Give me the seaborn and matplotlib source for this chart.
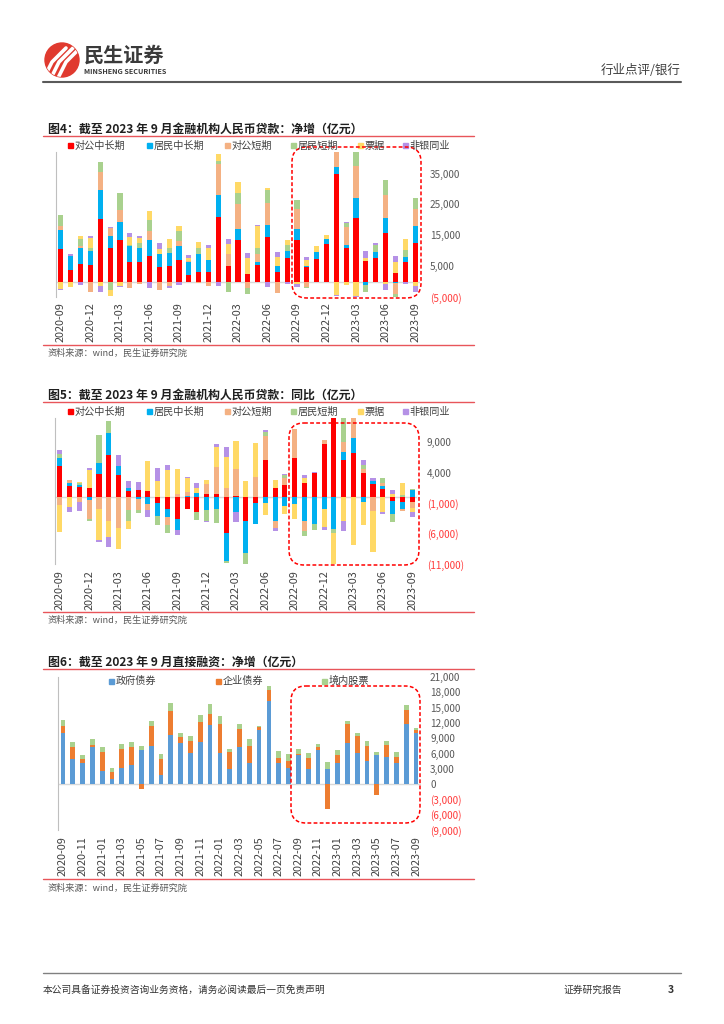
import numpy as np
import pandas as pd
import matplotlib
matplotlib.use('Agg')
import matplotlib.pyplot as plt
from matplotlib.patches import Rectangle, FancyBboxPatch, Circle
import seaborn as sns

sns.set_style('white')
plt.rcParams['font.family'] = ['Noto Sans CJK SC', 'DejaVu Sans']
plt.rcParams['axes.unicode_minus'] = False

months = list(pd.period_range('2020-09', '2023-09', freq='M').strftime('%Y-%m'))

# 图4 净增 (亿元)
corpLong4 = [10650, 3900, 5750, 5400, 20300, 10870, 13370, 6400, 6400, 8370, 4800, 5100, 6850, 2200, 3150, 3260, 20900, 4900, 13370,
             2600, 5430, 14350, 3260, 7600, 13370, 4570, 7390, 12070, 34890, 10980, 20650, 6520, 7610, 15870, 2720, 6200, 12390]
hhLong4 = [6200, 4250, 5100, 4350, 9350, 4000, 6100, 5100, 4450, 5100, 4000, 4250, 4550, 4100, 5850, 3600, 7300, -100, 3700,
           0, 1000, 4130, 1640, 2400, 3600, 430, 2070, 1850, 2170, 870, 6300, -1200, 1850, 4670, -540, 1630, 5540]
corpShort4 = [1150, 0, 550, -3250, 5750, 2600, 3700, -2200, -650, 3050, -2600, -1500, 1750, 500, -400, -1300, 10000, 4100, 8150,
              -2200, 2600, 6850, -3700, 0, 6400, -1630, 0, 0, 4900, 5760, 10650, 0, 0, 7400, -3580, 0, 5650]
hhShort4 = [3700, 0, 2500, 1100, 3250, -2600, 5450, 300, 1750, 3500, 0, 1500, 3250, 0, 2000, 0, 1000, -3400, 3600,
            -1900, 1850, 4240, 0, 1960, 3040, -540, -200, -300, 0, 1300, 4350, -2300, 2280, 4900, -760, 2500, 3370]
bills4 = [-2400, -1850, 870, 3250, -1500, -2000, -1300, 2700, 1500, 2900, 1750, 2950, 1500, 900, 1700, 4150, 2100, 3100, 3300,
          5150, 7150, 870, 3040, 1630, -870, 1850, 1950, 1100, -4240, -980, -4560, 1200, 0, -870, 3580, 3580, -1520]
nonbank4 = [-400, 700, -1100, 750, -2000, 300, -400, 1400, 650, -2000, 1850, -450, -1000, 1000, 0, 750, -1300, 1700, -300,
            1350, 450, -1600, 1520, -650, -870, 1100, 0, 0, -430, 300, -430, 2280, 760, -1960, 2070, -650, -1740]

# 图5 同比 (亿元)
corpLong5 = [5060, 1830, 1670, 1500, 3840, 6840, 3670, 1000, 1170, 1000, -950, -2000, -3670, -1890, -2450, 560, 500, -5950, 170,
             -4000, -950, 6120, 1500, 2060, 6500, 2340, 3890, 8670, 14000, 6060, 7170, 4000, 2110, 1330, -670, -890, -890]
hhLong5 = [1390, 500, 330, -440, 1830, 3720, 1500, 500, -280, -1170, -2220, -1340, -1730, 220, 670, -2170, -1950, -4610, -2450,
           -5120, -3440, -1000, -4000, -1450, -1170, -3950, -4450, -2000, -5230, 1280, 2620, -830, 610, 560, -2170, -1110, 1220]
corpShort5 = [-1220, 400, -890, -3230, -2000, -4000, -5000, -2170, -1890, -1000, 0, -1220, 560, 610, 0, 1550, 4390, 1500, 4390,
              0, 3340, 3950, -1060, 1060, 4730, -1560, 0, 670, 0, 1670, 4000, 670, -2340, 450, 0, -280, -890]
hhShort5 = [670, 0, 330, -330, 4500, 1890, 0, -1830, -500, 0, -1500, -1280, 0, 0, -1270, -1720, -2330, -220, 0,
            -2000, 0, 610, 0, 500, 0, -830, -890, 0, -670, 4500, 1500, 670, 0, 780, -1280, 330, 110]
bills5 = [-4450, -1670, 220, 3000, -5000, -2500, -3560, -1230, 0, 4950, 2720, 4500, 4060, 2340, 830, 730, 3280, 5060, 4610,
          2670, 5560, -1890, 1280, -1330, -2390, 780, 0, -2890, -5800, -4000, -7840, -3780, -6670, -2450, 500, 1950, -610]
nonbank5 = [560, -780, -1330, 280, -450, -1670, 1780, 1220, 1330, -1110, 2120, 780, -830, 170, 780, -220, 560, 1610, -1660,
            0, 0, 330, -440, 220, 0, 560, 220, -500, 0, -1620, 0, 830, 390, -330, 700, 0, -950]

# 图6 直接融资 净增 (亿元)
govBond = [10100, 4960, 4040, 7240, 2480, 1040, 3130, 3780, 6780, 7560, 1830, 9710, 8080, 6130, 8220, 11670, 6130, 2870, 7240,
           4040, 10690, 16230, 4110, 3060, 5610, 2930, 6590, 2870, 4170, 8150, 6060, 4560, 5610, 5410, 4170, 11870, 10040]
corpBond = [1300, 2350, 910, 390, 3910, 1430, 3850, 3590, -980, 3910, 3130, 4690, 1110, 2410, 4040, 2150, 5740, 3520, 3650,
            3520, 460, 2280, 910, 1500, 390, 2280, 650, -4890, 1560, 3650, 3390, 2930, -2090, 2220, 1170, 2670, 590]
equity = [1170, 910, 780, 1170, 910, 720, 910, 910, 720, 980, 980, 1570, 850, 850, 1300, 1960, 1500, 590, 910,
          1240, 200, 720, 1440, 1300, 980, 850, 650, 1430, 1040, 650, 590, 1040, 780, 850, 980, 1040, 390]

loanNames = ['对公中长期', '居民中长期', '对公短期', '居民短期', '票据', '非银同业']
loanColors = ['#FF0000', '#00B0F0', '#F4B183', '#A9D18E', '#FFD966', '#B591E6']
finNames = ['政府债券', '企业债券', '境内股票']
finColors = ['#5B9BD5', '#ED7D31', '#A9D18E']

W, H = 724, 1024
RED_LINE = '#E8555A'


def StackBars(ax, series, colors, width):
    pos = np.zeros(len(months))
    neg = np.zeros(len(months))
    for vals, col in zip(series, colors):
        v = np.array(vals, dtype=float)
        base = np.where(v >= 0, pos, neg)
        sns.barplot(x=months, y=v, order=months, bottom=base, color=col, saturation=1,
                    width=width, errorbar=None, linewidth=0, ax=ax)
        pos += np.clip(v, 0, None)
        neg += np.clip(v, None, 0)


def FormatAxis(ax, lo, hi, ticks, step, ypad, xpad):
    ax.set_xlim(-0.5, len(months) - 0.5)
    ax.set_ylim(lo, hi)
    ax.axhline(0, color='#D9D9D9', lw=1, zorder=0)
    ax.set_xticks(range(0, len(months), step))
    ax.set_xticklabels(months[::step], rotation=90, fontsize=7.8, color='#404040')
    ax.yaxis.tick_right()
    ax.set_yticks(ticks)
    ax.set_yticklabels([f"{t:,}" if t >= 0 else f"({-t:,})" for t in ticks], fontsize=7.2)
    for t, lab in zip(ticks, ax.get_yticklabels()):
        lab.set_color('#FF3B3B' if t < 0 else '#595959')
    ax.tick_params(axis='y', length=0, pad=ypad)
    ax.tick_params(axis='x', length=0, pad=xpad)
    for s in ['top', 'right', 'bottom']:
        ax.spines[s].set_visible(False)
    ax.spines['left'].set_color('#BFBFBF')
    ax.spines['left'].set_linewidth(0.8)
    ax.set_xlabel('')
    ax.set_ylabel('')


def AxesAt(fig, x0, x1, y0, y1):
    return fig.add_axes([x0 / W, 1 - y1 / H, (x1 - x0) / W, (y1 - y0) / H])


fig = plt.figure(figsize=(7.24, 10.24), dpi=100)

ax4 = AxesAt(fig, 56, 420, 152, 297)
StackBars(ax4, [corpLong4, hhLong4, corpShort4, hhShort4, bills4, nonbank4], loanColors, 0.52)
FormatAxis(ax4, -5000, 42000, list(range(-5000, 40000, 10000)), 3, 7.2, 3.6)

ax5 = AxesAt(fig, 55, 417, 418, 564)
StackBars(ax5, [corpLong5, hhLong5, corpShort5, hhShort5, bills5, nonbank5], loanColors, 0.52)
FormatAxis(ax5, -11000, 13000, list(range(-11000, 13000, 5000)), 3, 7.2, 4.2)

ax6 = AxesAt(fig, 58, 421, 677, 830)
StackBars(ax6, [govBond, corpBond, equity], finColors, 0.48)
FormatAxis(ax6, -9000, 21000, list(range(-9000, 21001, 3000)), 2, 6.5, 4.2)

# page overlay in pixel coordinates
ov = fig.add_axes([0, 0, 1, 1], zorder=10)
ov.set_xlim(0, W)
ov.set_ylim(H, 0)
ov.axis('off')

# header
logo = Circle((62, 60), 17, color='#E03A2F')
ov.add_patch(logo)
for o in (-8, -1, 6):
    ln, = ov.plot([52 + o, 60 + o, 74 + o], [78, 62, 48], color='white', lw=2.6, solid_capstyle='round')
    ln.set_clip_path(logo)
ov.text(84, 55, '民生证券', fontsize=14.5, fontweight='bold', color='#3A3A3A', va='center')
ov.text(84, 71, 'MINSHENG SECURITIES', fontsize=5.2, fontweight='bold', color='#3A3A3A', va='center')
ov.text(681, 70, '行业点评/银行', fontsize=9, ha='right', va='center', color='#404040')
ov.plot([43, 681], [82, 82], color='#5A5A5A', lw=1.5)

titles = ['图4：截至 2023 年 9 月金融机构人民币贷款：净增（亿元）',
          '图5：截至 2023 年 9 月金融机构人民币贷款：同比（亿元）',
          '图6：截至 2023 年 9 月直接融资：净增（亿元）']
titleY = [129, 395, 662]
topLineY = [136, 402, 669]
botLineY = [345, 612, 879]
srcY = [353, 620, 888]
for t, ty, ly, by, sy in zip(titles, titleY, topLineY, botLineY, srcY):
    ov.text(48, ty, t, fontsize=8.6, fontweight='bold', color='#1F1F1F', va='center')
    ov.plot([43, 474], [ly, ly], color=RED_LINE, lw=1)
    ov.plot([43, 474], [by, by], color=RED_LINE, lw=1)
    ov.text(48, sy, '资料来源：wind，民生证券研究院', fontsize=6.6, color='#595959', va='center')

# legends
loanLegX = [68, 147, 225, 291, 358, 403]
for ly in (145.5, 411.5):
    for name, col, lx in zip(loanNames, loanColors, loanLegX):
        ov.add_patch(Rectangle((lx, ly - 2.5), 5, 5, color=col))
        ov.text(lx + 6.5, ly, name, fontsize=7.3, color='#404040', va='center')
finLegX = [109, 216, 322]
for name, col, lx in zip(finNames, finColors, finLegX):
    ov.add_patch(Rectangle((lx, 681 - 2.5), 5, 5, color=col))
    ov.text(lx + 6.5, 681, name, fontsize=7.3, color='#404040', va='center')

# dashed highlight boxes
for x0, y0, x1, y1 in [(292, 147, 421, 298), (289, 423, 419, 565), (291, 686, 420, 823)]:
    ov.add_patch(FancyBboxPatch((x0, y0), x1 - x0, y1 - y0, boxstyle='round,pad=0,rounding_size=15',
                                fill=False, ec='#FF0000', lw=1.1, ls=(0, (2.5, 1.5))))

# footer
ov.plot([43, 681], [973, 973], color='#808080', lw=1)
ov.text(43, 990, '本公司具备证券投资咨询业务资格，请务必阅读最后一页免责声明', fontsize=7, color='#333333', va='center')
ov.text(563, 990, '证券研究报告', fontsize=7, color='#333333', va='center')
ov.text(668, 990, '3', fontsize=7.5, fontweight='bold', color='#333333', va='center')

fig.savefig('out.png', dpi=100)
